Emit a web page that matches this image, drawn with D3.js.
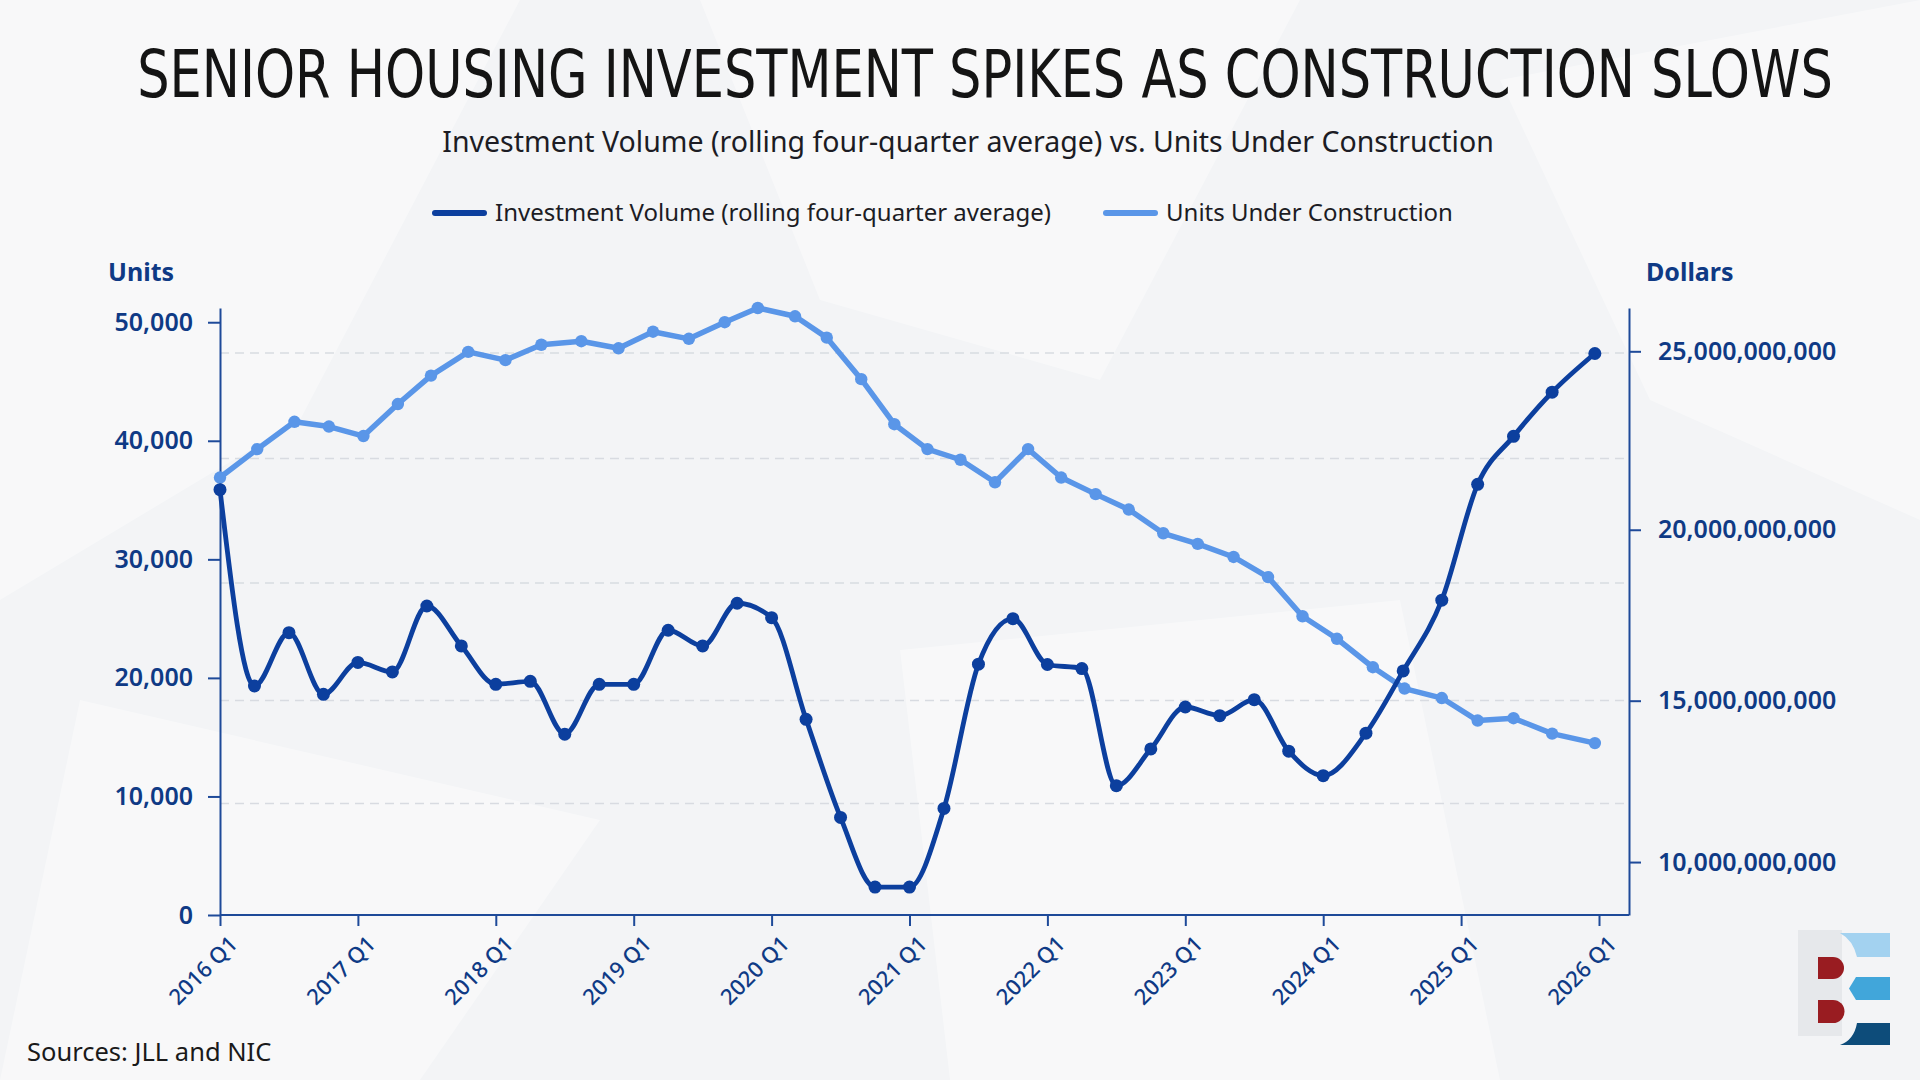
<!DOCTYPE html>
<html>
<head>
<meta charset="utf-8">
<script src="https://cdn.jsdelivr.net/npm/d3@7"></script>
<style>
  html, body { margin: 0; padding: 0; background: #f3f4f6; }
  svg { display: block; }
</style>
</head>
<body>
<script>
// ---- data ----
const tickYears = [2016, 2017, 2018, 2019, 2020, 2021, 2022, 2023, 2024, 2025, 2026];

// units under construction (x as decimal year, as plotted)
const unitsTime = [2016.00, 2016.27, 2016.54, 2016.79, 2017.04, 2017.29, 2017.53, 2017.80, 2018.07, 2018.33,
  2018.62, 2018.89, 2019.14, 2019.40, 2019.66, 2019.90, 2020.17, 2020.40, 2020.65, 2020.89,
  2021.13, 2021.37, 2021.62, 2021.86, 2022.10, 2022.35, 2022.59, 2022.84, 2023.09, 2023.35,
  2023.60, 2023.85, 2024.10, 2024.36, 2024.59, 2024.86, 2025.12, 2025.38, 2025.66, 2025.97];
const unitsValues = [36900, 39300, 41600, 41200, 40400, 43100, 45500, 47500, 46800, 48100,
  48400, 47800, 49200, 48600, 50000, 51200, 50500, 48700, 45200, 41400,
  39300, 38400, 36500, 39300, 36900, 35500, 34200, 32200, 31300, 30200,
  28500, 25200, 23300, 20900, 19100, 18300, 16400, 16600, 15300, 14500];

// investment volume, rolling four-quarter average (dollars)
const investTime = [2016.00, 2016.25, 2016.50, 2016.75, 2017.00, 2017.25, 2017.50, 2017.75, 2018.00, 2018.25,
  2018.50, 2018.75, 2019.00, 2019.25, 2019.50, 2019.75, 2020.00, 2020.25, 2020.50, 2020.75,
  2021.00, 2021.25, 2021.50, 2021.75, 2022.00, 2022.25, 2022.50, 2022.75, 2023.00, 2023.25,
  2023.50, 2023.75, 2024.00, 2024.31, 2024.58, 2024.86, 2025.12, 2025.38, 2025.66, 2025.97];
const investValues = [21.14e9, 15.44e9, 17.02e9, 15.19e9, 16.14e9, 15.86e9, 17.80e9, 16.63e9, 15.49e9, 15.58e9,
  13.99e9, 15.49e9, 15.49e9, 17.09e9, 16.63e9, 17.88e9, 17.46e9, 14.44e9, 11.42e9, 9.19e9,
  9.19e9, 11.70e9, 16.09e9, 17.43e9, 16.08e9, 15.96e9, 12.41e9, 13.54e9, 14.81e9, 14.55e9,
  15.03e9, 13.47e9, 12.72e9, 14.02e9, 15.89e9, 17.97e9, 21.29e9, 22.64e9, 23.87e9, 24.94e9];

const unitTicks = [0, 10000, 20000, 30000, 40000, 50000];
const dollarTicks = [10e9, 15e9, 20e9, 25e9];
const gridUnits = [47400, 38500, 28000, 18100, 9400];

const seriesNames = ["Investment Volume (rolling four-quarter average)", "Units Under Construction"];

// ---- layout ----
const W = 1920, H = 1080;
const plotL = 220, plotR = 1629, plotT = 308, plotB = 915;
const darkBlue = "#0c3f9e", lightBlue = "#5a96e8", axisCol = "#1e4a99", labelCol = "#0f3a85";

const svg = d3.select("body").append("svg").attr("width", W).attr("height", H);

// paper background
svg.append("rect").attr("width", W).attr("height", H).attr("fill", "#f3f4f6");
const creases = [
  [[0,0],[520,0],[300,420],[0,600]],
  [[700,0],[1300,0],[1100,380],[820,300]],
  [[1500,80],[1920,0],[1920,520],[1650,400]],
  [[80,700],[600,820],[420,1080],[0,1080]],
  [[900,650],[1400,600],[1500,1080],[950,1080]]
];
svg.append("g").selectAll("polygon").data(creases).join("polygon")
  .attr("points", d => d.map(p => p.join(",")).join(" "))
  .attr("fill", "#ffffff").attr("opacity", 0.4);

// scales
const x = d3.scaleLinear().domain([2016, 2026]).range([plotL, 1599]);
const yL = d3.scaleLinear().domain([0, d3.max(unitsValues)]).range([plotB, plotT]);
const yR = d3.scalePow().exponent(1.17)
  .domain([d3.min(investValues) * 0.9, d3.max(investValues) * 1.05])
  .range([plotB, plotT]);

// grid
svg.append("g").selectAll("line").data(gridUnits).join("line")
  .attr("x1", plotL).attr("x2", plotR)
  .attr("y1", d => yL(d)).attr("y2", d => yL(d))
  .attr("stroke", "#d8dbe1").attr("stroke-width", 1.5).attr("stroke-dasharray", "9,6");

// axes
function styleAxis(g) {
  g.selectAll("path, line").attr("stroke", axisCol).attr("stroke-width", 2);
  g.selectAll("text").attr("fill", labelCol).attr("font-family", "'Noto Sans', sans-serif")
    .attr("font-weight", 600).attr("font-size", 25);
}

svg.append("g").attr("transform", `translate(${plotL},0)`)
  .call(d3.axisLeft(yL).tickValues(unitTicks).tickFormat(d3.format(",")).tickSize(12).tickSizeOuter(0).tickPadding(15))
  .call(styleAxis);

svg.append("g").attr("transform", `translate(${plotR},0)`)
  .call(d3.axisRight(yR).tickValues(dollarTicks).tickFormat(d3.format(",")).tickSize(12).tickSizeOuter(0).tickPadding(17))
  .call(styleAxis);

const xAxis = svg.append("g").attr("transform", `translate(0,${plotB})`)
  .call(d3.axisBottom(x).tickValues(tickYears).tickFormat(d => d + " Q1").tickSize(11).tickSizeOuter(0))
  .call(styleAxis);
xAxis.select(".domain").remove();
xAxis.selectAll("text")
  .attr("font-size", 22).attr("font-weight", 500)
  .attr("text-anchor", "end").attr("x", 0).attr("y", 0).attr("dy", "0.35em")
  .attr("transform", "translate(13,25) rotate(-45)");
svg.append("line").attr("x1", plotL).attr("x2", plotR).attr("y1", plotB).attr("y2", plotB)
  .attr("stroke", axisCol).attr("stroke-width", 2);

// lines
const unitsLine = d3.line().x((d, i) => x(unitsTime[i])).y(d => yL(d));
const investLine = d3.line().curve(d3.curveMonotoneX).x((d, i) => x(investTime[i])).y(d => yR(d));

svg.append("path").datum(unitsValues).attr("d", unitsLine)
  .attr("fill", "none").attr("stroke", lightBlue).attr("stroke-width", 5.5)
  .attr("stroke-linejoin", "round");
svg.append("g").selectAll("circle").data(unitsValues).join("circle")
  .attr("cx", (d, i) => x(unitsTime[i])).attr("cy", d => yL(d)).attr("r", 6.2)
  .attr("fill", lightBlue);

svg.append("path").datum(investValues).attr("d", investLine)
  .attr("fill", "none").attr("stroke", darkBlue).attr("stroke-width", 4.8)
  .attr("stroke-linejoin", "round");
svg.append("g").selectAll("circle").data(investValues).join("circle")
  .attr("cx", (d, i) => x(investTime[i])).attr("cy", d => yR(d)).attr("r", 6.5)
  .attr("fill", darkBlue);

// axis titles
svg.append("text").attr("x", 108).attr("y", 281).text("Units")
  .attr("font-family", "'Noto Sans', sans-serif").attr("font-weight", 700).attr("font-size", 25).attr("fill", labelCol);
svg.append("text").attr("x", 1646).attr("y", 281).text("Dollars")
  .attr("font-family", "'Noto Sans', sans-serif").attr("font-weight", 700).attr("font-size", 25).attr("fill", labelCol);

// title: measured, then squeezed horizontally to the reference width
const title = svg.append("text").attr("text-anchor", "middle")
  .attr("font-family", "'DejaVu Sans Condensed', 'Liberation Sans Narrow', sans-serif")
  .attr("font-size", 66).attr("fill", "#141414")
  .text("SENIOR HOUSING INVESTMENT SPIKES AS CONSTRUCTION SLOWS");
const titleW = title.node().getComputedTextLength();
title.attr("transform", `translate(985,97) scale(${1696 / titleW},1)`);

svg.append("text").attr("x", 968).attr("y", 152).attr("text-anchor", "middle")
  .attr("font-family", "'Noto Sans', sans-serif").attr("font-size", 28.5).attr("fill", "#1c1c24")
  .text("Investment Volume (rolling four-quarter average) vs. Units Under Construction");

// legend
const legend = [
  { name: seriesNames[0], color: darkBlue, x0: 435 },
  { name: seriesNames[1], color: lightBlue, x0: 1106 }
];
const lg = svg.append("g").selectAll("g").data(legend).join("g")
  .attr("transform", d => `translate(${d.x0},213)`);
lg.append("line").attr("x1", 0).attr("x2", 49).attr("y1", 0).attr("y2", 0)
  .attr("stroke", d => d.color).attr("stroke-width", 6).attr("stroke-linecap", "round");
lg.append("text").attr("x", 60).attr("dy", "0.35em").text(d => d.name)
  .attr("font-family", "'Noto Sans', sans-serif").attr("font-size", 24).attr("fill", "#1c1c24");

// source
svg.append("text").attr("x", 27).attr("y", 1061).text("Sources: JLL and NIC")
  .attr("font-family", "'Noto Sans', sans-serif").attr("font-size", 25.5).attr("fill", "#1a1a1a");

// logo
const logo = svg.append("g");
logo.append("rect").attr("x", 1798).attr("y", 930).attr("width", 44).attr("height", 106).attr("fill", "#e6e8eb");
logo.append("path").attr("d", "M1840,933 H1890 V957 H1857 Q1853,940 1840,933 Z").attr("fill", "#a3d2f0");
logo.append("path").attr("d", "M1856,977 H1890 V1000 H1856 L1849,988.5 Z").attr("fill", "#41a6da");
logo.append("path").attr("d", "M1857,1023 H1890 V1045 H1840 Q1854,1040 1857,1023 Z").attr("fill", "#0d4c7a");
logo.append("path").attr("d", "M1818,957 H1833 A11,11 0 0 1 1833,979 H1818 Z").attr("fill", "#991c21");
logo.append("path").attr("d", "M1818,1000 H1833 A11.5,11.5 0 0 1 1833,1023 H1818 Z").attr("fill", "#991c21");
</script>
</body>
</html>
